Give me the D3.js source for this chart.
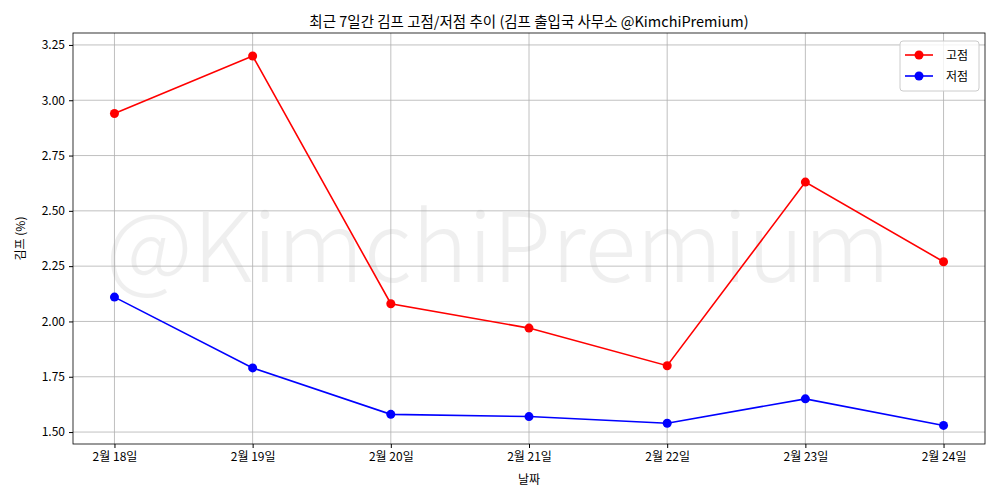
<!DOCTYPE html>
<html><head><meta charset="utf-8">
<script src="https://cdn.jsdelivr.net/npm/d3@7"></script>
<style>body{margin:0;background:#fff}text{font-family:"Noto Sans CJK KR","Noto Sans",sans-serif}</style>
</head><body><svg id="chart" width="1000" height="500"></svg>
<script>
var dates = ["2월 18일","2월 19일","2월 20일","2월 21일","2월 22일","2월 23일","2월 24일"];
var highs = [2.94, 3.20, 2.08, 1.97, 1.80, 2.63, 2.27];
var lows = [2.11, 1.79, 1.58, 1.57, 1.54, 1.65, 1.53];
var yTicks = [1.50, 1.75, 2.00, 2.25, 2.50, 2.75, 3.00, 3.25];

var svg = d3.select("#chart");
var L = 73, R = 985, T = 33, B = 444;

var x = d3.scaleLinear().domain([-0.3, 6.3]).range([L, R]);
var y = d3.scaleLinear().domain([1.446, 3.304]).range([B, T]);

// watermark
svg.append("text").attr("x", 498).attr("y", 282).attr("text-anchor", "middle")
	.attr("font-size", 96).attr("font-weight", 300).attr("fill", "#000").attr("opacity", 0.06)
	.attr("textLength", 785).attr("lengthAdjust", "spacingAndGlyphs")
	.text("@KimchiPremium");

// grid
svg.append("g").selectAll("line").data(dates).join("line")
	.attr("x1", (d, i) => x(i)).attr("x2", (d, i) => x(i)).attr("y1", T).attr("y2", B)
	.attr("stroke", "#b0b0b0").attr("stroke-width", 0.8);
svg.append("g").selectAll("line").data(yTicks).join("line")
	.attr("x1", L).attr("x2", R).attr("y1", d => y(d)).attr("y2", d => y(d))
	.attr("stroke", "#b0b0b0").attr("stroke-width", 0.8);

var xAxis = svg.append("g").attr("transform", "translate(0," + B + ")")
	.call(d3.axisBottom(x).tickValues(d3.range(7)).tickFormat(i => dates[i]).tickSizeOuter(0).tickSize(4).tickPadding(4));
var yAxis = svg.append("g").attr("transform", "translate(" + L + ",0)")
	.call(d3.axisLeft(y).tickValues(yTicks).tickFormat(d3.format(".2f")).tickSizeOuter(0).tickSize(4).tickPadding(4));
[xAxis, yAxis].forEach(a => { a.selectAll("text").attr("font-size", 12).attr("fill", "#000"); a.select(".domain").remove(); });

svg.append("rect").attr("x", L).attr("y", T).attr("width", R - L).attr("height", B - T)
	.attr("fill", "none").attr("stroke", "#000").attr("stroke-width", 0.8);

function series(vals, color) {
	var line = d3.line().x((d, i) => x(i)).y(d => y(d));
	svg.append("path").datum(vals).attr("d", line).attr("fill", "none").attr("stroke", color).attr("stroke-width", 1.6);
	svg.append("g").selectAll("circle").data(vals).join("circle")
		.attr("cx", (d, i) => x(i)).attr("cy", d => y(d)).attr("r", 4.5).attr("fill", color);
}
series(highs, "#ff0000");
series(lows, "#0000ff");

// title and labels
svg.append("text").attr("x", (L + R) / 2).attr("y", 27).attr("text-anchor", "middle").attr("font-size", 14.5)
	.text("최근 7일간 김프 고점/저점 추이 (김프 출입국 사무소 @KimchiPremium)");
svg.append("text").attr("x", (L + R) / 2).attr("y", 484).attr("text-anchor", "middle").attr("font-size", 12).text("날짜");
svg.append("text").attr("transform", "translate(25," + ((T + B) / 2) + ") rotate(-90)").attr("text-anchor", "middle")
	.attr("font-size", 12).text("김프 (%)");

// legend
var lg = svg.append("g").attr("transform", "translate(900,41)");
lg.append("rect").attr("width", 79).attr("height", 50).attr("rx", 3).attr("fill", "#fff").attr("fill-opacity", 0.8).attr("stroke", "#ccc");
[["고점", "#ff0000"], ["저점", "#0000ff"]].forEach(function (d, i) {
	var g = lg.append("g").attr("transform", "translate(0," + (14 + i * 21) + ")");
	g.append("line").attr("x1", 5).attr("x2", 33).attr("stroke", d[1]).attr("stroke-width", 1.6);
	g.append("circle").attr("cx", 19).attr("r", 4.5).attr("fill", d[1]);
	g.append("text").attr("x", 46).attr("y", 4.5).attr("font-size", 12).text(d[0]);
});
</script></body></html>
